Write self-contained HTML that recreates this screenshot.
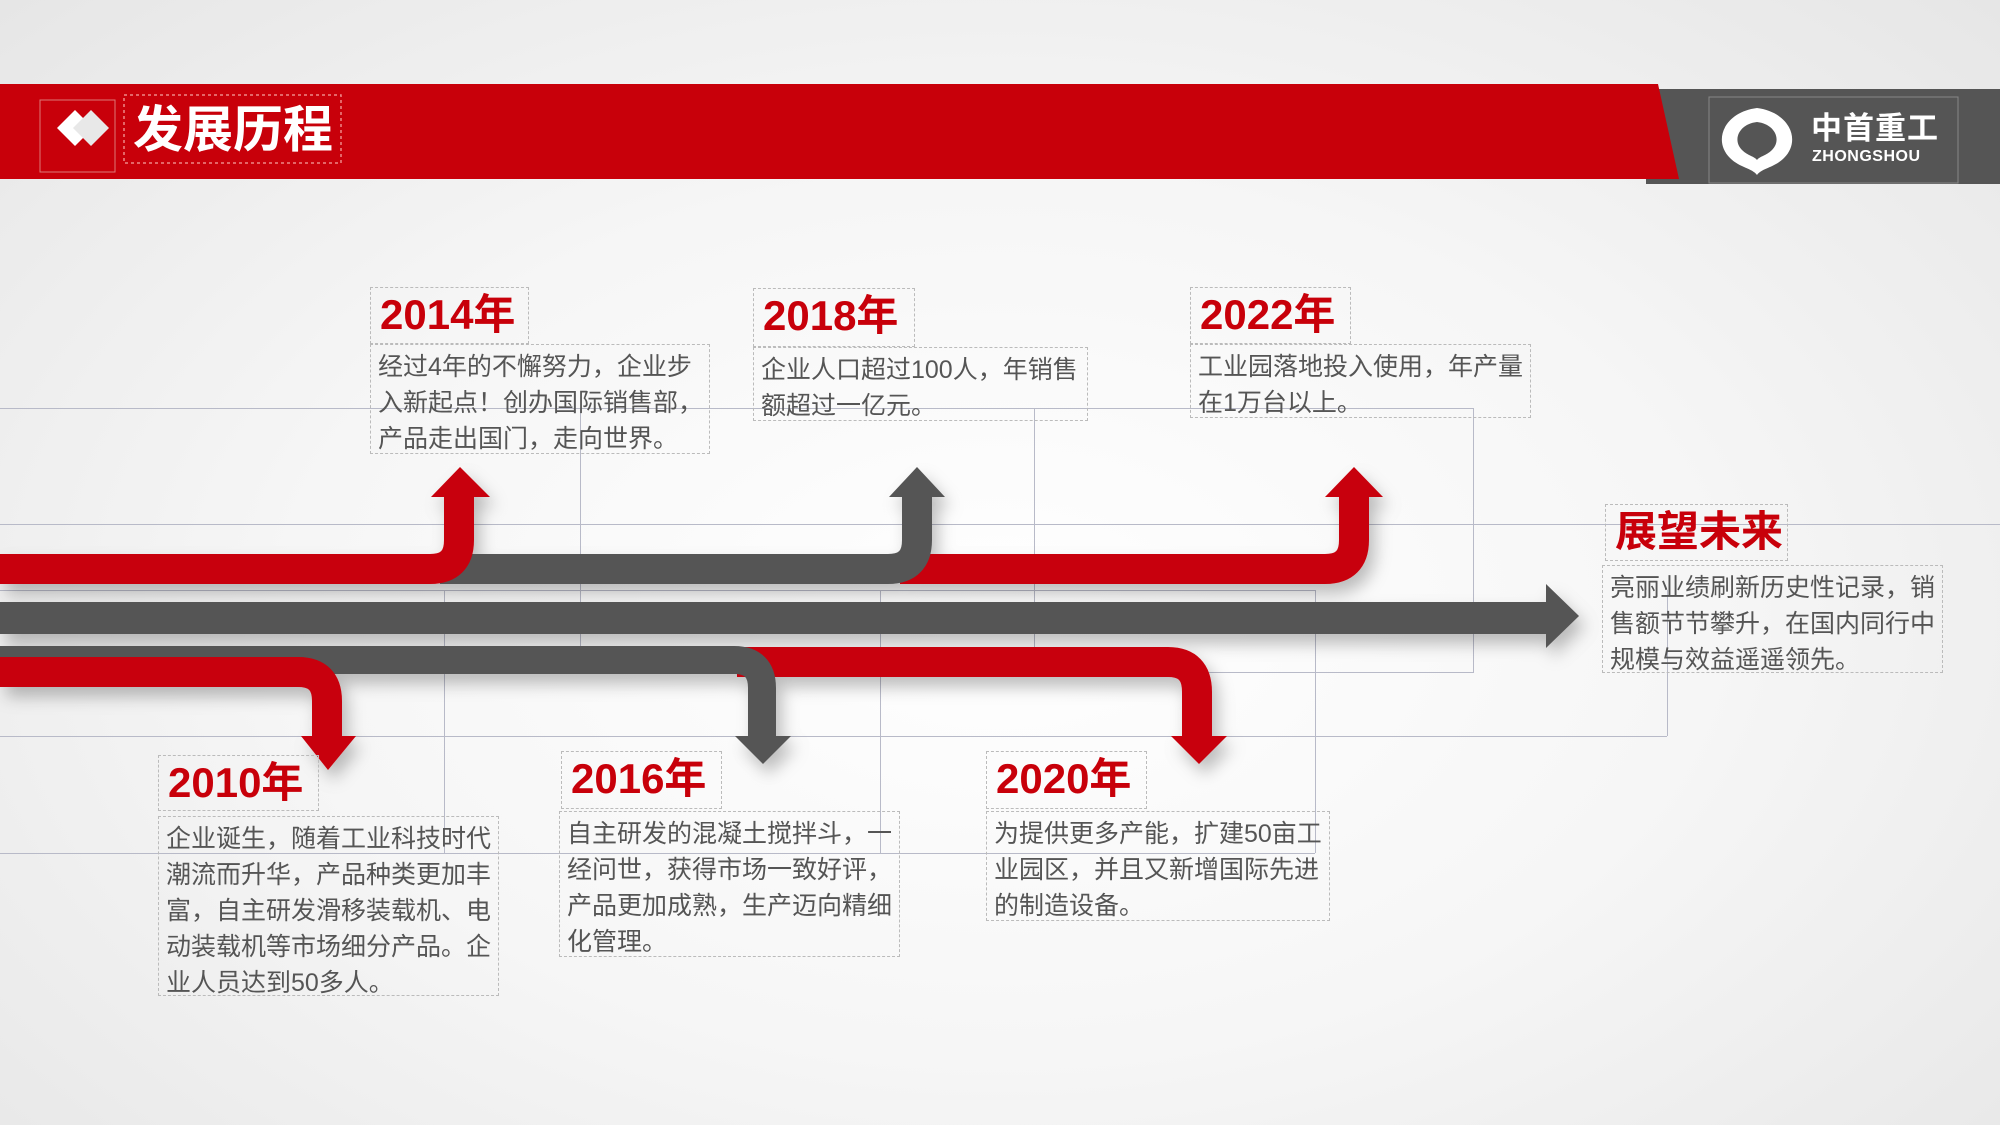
<!DOCTYPE html>
<html><head><meta charset="utf-8"><style>
html,body{margin:0;padding:0}
body{width:2000px;height:1125px;position:relative;overflow:hidden;background:radial-gradient(ellipse at 50% 55%,#ffffff 0%,#f6f6f6 50%,#e6e6e6 100%);font-family:"Liberation Sans","Noto Sans CJK SC",sans-serif}
.a{position:absolute}
.yr{position:absolute;border:1.5px dashed #bbb;color:#c8000a;font-weight:bold;font-size:42px;line-height:54px;padding-left:9px;box-sizing:border-box}
.ds{position:absolute;border:1.5px dashed #bbb;color:#555;font-size:25px;line-height:36px;padding:4px 0 0 7px;box-sizing:border-box;letter-spacing:0}
.gl{position:absolute;background:#b8bac8}
</style></head><body>
<!-- header -->
<div class="a" style="left:1646px;top:89px;width:354px;height:95px;background:#555"></div>
<svg class="a" style="left:0;top:0" width="2000" height="200">
<polygon points="0,84 1658,84 1679,179 0,179" fill="#c8000a"/>
<rect x="1709" y="97" width="249" height="86" fill="none" stroke="#888" stroke-width="1"/>
<path d="M1757,108 C1725,112 1712,140 1730,158 C1740,168 1752,168 1757,175 C1762,168 1774,168 1784,158 C1802,140 1789,112 1757,108 Z M1757,122 C1775,124 1782,140 1772,150 C1766,156 1760,156 1757,160 C1754,156 1748,156 1742,150 C1732,140 1739,124 1757,122 Z" fill="#fff" fill-rule="evenodd"/>
<polygon points="57,128 75,110 93,128 75,146" fill="#fff"/>
<polygon points="73,128 91,110 109,128 91,146" fill="#e8e8e8"/>
<rect x="40" y="100" width="75" height="72" fill="none" stroke="#d77" stroke-width="1"/>
<rect x="124" y="95" width="217" height="68" fill="none" stroke="#e88" stroke-width="1.5" stroke-dasharray="3,3"/>
</svg>
<div class="a" style="left:133px;top:98px;color:#fff;font-weight:bold;font-size:50px;line-height:64px">发展历程</div>
<div class="a" style="left:1811px;top:110px;color:#fff;font-weight:bold;font-size:31px;line-height:38px;letter-spacing:1px">中首重工</div>
<div class="a" style="left:1812px;top:148px;color:#fff;font-size:16px;line-height:18px;font-weight:bold;letter-spacing:0.5px">ZHONGSHOU</div>

<!-- guide lines -->
<div class="gl" style="left:0;top:408px;width:1473px;height:1px"></div>
<div class="gl" style="left:0;top:524px;width:2000px;height:1px"></div>
<div class="gl" style="left:0;top:590px;width:1315px;height:1px"></div>
<div class="gl" style="left:0;top:672px;width:1473px;height:1px"></div>
<div class="gl" style="left:0;top:736px;width:1667px;height:1px"></div>
<div class="gl" style="left:0;top:853px;width:1315px;height:1px"></div>
<div class="gl" style="left:580px;top:408px;width:1px;height:265px"></div>
<div class="gl" style="left:1034px;top:408px;width:1px;height:265px"></div>
<div class="gl" style="left:1473px;top:408px;width:1px;height:265px"></div>
<div class="gl" style="left:444px;top:590px;width:1px;height:263px"></div>
<div class="gl" style="left:880px;top:590px;width:1px;height:263px"></div>
<div class="gl" style="left:1315px;top:590px;width:1px;height:263px"></div>
<div class="gl" style="left:1667px;top:590px;width:1px;height:146px"></div>

<!-- arrows -->
<svg class="a" style="left:0;top:0" width="2000" height="1125">
<defs><filter id="sh" x="-10%" y="-20%" width="130%" height="160%"><feDropShadow dx="6" dy="10" stdDeviation="8" flood-color="#000" flood-opacity="0.25"/></filter></defs>
<g filter="url(#sh)" fill="none">
<path d="M900,569 H1325 Q1354,569 1354,540 V497" stroke="#c8000a" stroke-width="30"/>
<polygon points="1325,497 1383,497 1354,467" fill="#c8000a"/>
<path d="M440,569 H888 Q917,569 917,540 V497" stroke="#555" stroke-width="30"/>
<polygon points="889,497 945,497 917,467" fill="#555"/>
<path d="M0,569 H430 Q459,569 459,540 V497" stroke="#c8000a" stroke-width="30"/>
<polygon points="431,497 490,497 460,467" fill="#c8000a"/>
<rect x="0" y="602" width="1548" height="32" fill="#555"/>
<polygon points="1546,584 1579,616 1546,648" fill="#555"/>
<path d="M737,662 H1168 Q1197,662 1197,692 V736" stroke="#c8000a" stroke-width="30"/>
<polygon points="1171,736 1227,736 1199,764" fill="#c8000a"/>
<path d="M0,660 H734 Q762,660 762,688 V736" stroke="#555" stroke-width="28"/>
<polygon points="735,736 791,736 763,764" fill="#555"/>
<path d="M0,672 H298 Q327,672 327,701 V736" stroke="#c8000a" stroke-width="30"/>
<polygon points="301,736 356,736 328,770" fill="#c8000a"/>
</g>
</svg>

<!-- texts -->
<div class="yr" style="left:370px;top:287px;width:159px;height:57px">2014年</div>
<div class="ds" style="left:370px;top:344px;width:340px;height:110px">经过4年的不懈努力，企业步<br>入新起点！创办国际销售部，<br>产品走出国门，走向世界。</div>
<div class="yr" style="left:753px;top:288px;width:162px;height:59px">2018年</div>
<div class="ds" style="left:753px;top:347px;width:335px;height:74px">企业人口超过100人，年销售<br>额超过一亿元。</div>
<div class="yr" style="left:1190px;top:287px;width:161px;height:57px">2022年</div>
<div class="ds" style="left:1190px;top:344px;width:341px;height:74px">工业园落地投入使用，年产量<br>在1万台以上。</div>
<div class="yr" style="left:1605px;top:504px;width:183px;height:57px">展望未来</div>
<div class="ds" style="left:1602px;top:565px;width:341px;height:108px">亮丽业绩刷新历史性记录，销<br>售额节节攀升，在国内同行中<br>规模与效益遥遥领先。</div>
<div class="yr" style="left:158px;top:755px;width:161px;height:56px">2010年</div>
<div class="ds" style="left:158px;top:816px;width:341px;height:180px">企业诞生，随着工业科技时代<br>潮流而升华，产品种类更加丰<br>富，自主研发滑移装载机、电<br>动装载机等市场细分产品。企<br>业人员达到50多人。</div>
<div class="yr" style="left:561px;top:751px;width:161px;height:58px">2016年</div>
<div class="ds" style="left:559px;top:811px;width:341px;height:146px">自主研发的混凝土搅拌斗，一<br>经问世，获得市场一致好评，<br>产品更加成熟，生产迈向精细<br>化管理。</div>
<div class="yr" style="left:986px;top:751px;width:161px;height:58px">2020年</div>
<div class="ds" style="left:986px;top:811px;width:344px;height:110px">为提供更多产能，扩建50亩工<br>业园区，并且又新增国际先进<br>的制造设备。</div>
</body></html>
